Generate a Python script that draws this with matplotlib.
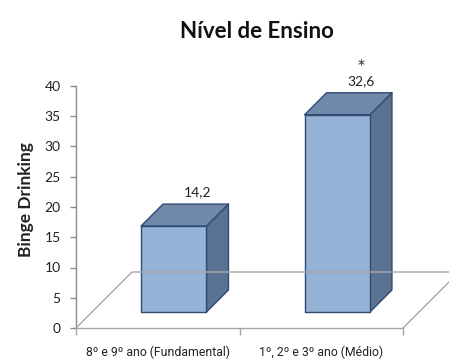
import matplotlib
matplotlib.use("Agg")
import matplotlib.pyplot as plt
from matplotlib.patches import Polygon
from matplotlib.lines import Line2D

categories = ["8º e 9º ano (Fundamental)", "1º, 2º e 3º ano (Médio)"]
values = [14.2, 32.6]
value_labels = ["14,2", "32,6"]
markers = ["", "*"]
title = "Nível de Ensino"
ylabel = "Binge Drinking"
yticks = [0, 5, 10, 15, 20, 25, 30, 35, 40]

plt.rcParams['font.family'] = ['Lato', 'DejaVu Sans']

W, H, DPI = 449, 362, 100
fig = plt.figure(figsize=(W / DPI, H / DPI), dpi=DPI)
fig.patch.set_facecolor("white")

ax = fig.add_axes([76 / W, 1 - 328 / H, 327 / W, 242 / H])
ax.set_xlim(-0.5, 1.5)
ax.set_ylim(0, 40)
ax.patch.set_alpha(0)
for s in ["top", "right", "bottom"]:
    ax.spines[s].set_visible(False)
ax.spines["left"].set_color("#8C8C8C")
ax.spines["left"].set_linewidth(1.0)

ax.set_yticks(yticks)
ax.tick_params(axis="y", direction="out", length=4, width=1, color="#8C8C8C",
               labelsize=10, pad=7, labelcolor="#222222")
ax.set_xticks([-0.5, 0.5, 1.5])
ax.set_xticklabels(["", "", ""])
ax.tick_params(axis="x", which="major", direction="out", length=5, width=1, color="#A6A6A6")
ax.set_xticks([0, 1], minor=True)
ax.set_xticklabels(categories, minor=True, family=["Roboto", "DejaVu Sans"])
ax.tick_params(axis="x", which="minor", length=0, labelsize=8.8, pad=13, labelcolor="#222222")

T = ax.transData
D_FLOOR = 56
D_FRONT = 16
D_BACK = 38
bw = 0.40

def P(x, y, d):
    px, py = T.transform((x, y))
    return (px + d, py + d)

floor_col = "#A6A6A6"
x0, x1 = ax.get_xlim()
pts = [P(x0, 0, 0), P(x0, 0, D_FLOOR), P(x1, 0, D_FLOOR), P(x1, 0, 0)]
fig.add_artist(Line2D([p[0] for p in pts], [p[1] for p in pts], transform=None,
                      color=floor_col, lw=1.0))
fig.add_artist(Line2D([pts[0][0], pts[3][0]], [pts[0][1], pts[3][1]], transform=None,
                      color=floor_col, lw=1.0))

front_c = "#95B3D7"
top_c = "#7189A8"
side_c = "#5B7392"
edge_c = "#2F4A73"

for i, v in enumerate(values):
    l, r = i - bw / 2, i + bw / 2
    front = [P(l, 0, D_FRONT), P(r, 0, D_FRONT), P(r, v, D_FRONT), P(l, v, D_FRONT)]
    top = [P(l, v, D_FRONT), P(r, v, D_FRONT), P(r, v, D_BACK), P(l, v, D_BACK)]
    side = [P(r, 0, D_FRONT), P(r, 0, D_BACK), P(r, v, D_BACK), P(r, v, D_FRONT)]
    for poly, c in [(side, side_c), (top, top_c), (front, front_c)]:
        fig.add_artist(Polygon(poly, closed=True, transform=None, facecolor=c,
                               edgecolor=edge_c, lw=1.0, joinstyle="round"))
    lx, ly = P(i, v, D_BACK)
    fig.text(lx + 2, ly + 12, value_labels[i], transform=None, ha="center", va="center",
             fontsize=10, color="#222222")
    if markers[i]:
        fig.text(lx + 2, ly + 28, markers[i], transform=None, ha="center", va="center",
                 fontsize=10, color="#222222", family=["DejaVu Sans"])

fig.text(257 / W, 1 - 31 / H, title, ha="center", va="center", fontsize=16,
         fontweight="bold", color="#111111")
fig.text(26 / W, 1 - 200 / H, ylabel, ha="center", va="center", rotation=90,
         fontsize=12.5, fontweight="bold", color="#222222")

fig.savefig("out.png", dpi=DPI)
